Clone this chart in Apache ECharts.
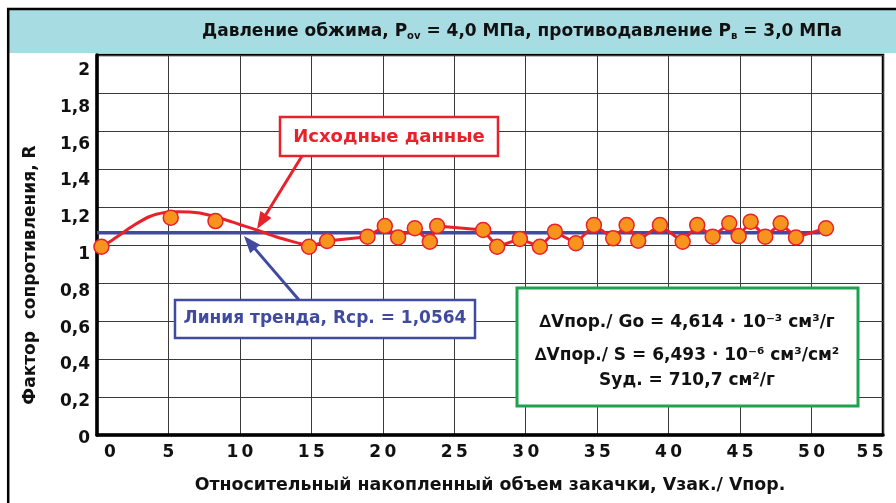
<!DOCTYPE html>
<html><head><meta charset="utf-8">
<script src="https://cdn.jsdelivr.net/npm/echarts@6/dist/echarts.min.js"></script>
<style>html,body{margin:0;padding:0;background:#fff}#c{width:896px;height:503px}</style>
</head><body><div id="c"></div>
<script>
// ---- data ----
const xMin = 0, xMax = 55, xInterval = 5;
const yMin = 0, yMax = 2, yInterval = 0.2;
const pointX = [0.31,5.16,8.29,14.84,16.10,18.93,20.14,21.07,22.24,23.29,23.80,27.02,28.00,29.59,30.99,32.04,33.51,34.77,36.12,37.06,37.87,39.39,40.98,42.00,43.08,44.24,44.90,45.74,46.76,47.84,48.91,51.01];
const pointY = [0.991,1.144,1.126,0.991,1.021,1.044,1.100,1.040,1.088,1.017,1.100,1.079,0.991,1.032,0.991,1.070,1.009,1.105,1.035,1.105,1.023,1.105,1.017,1.105,1.044,1.114,1.047,1.123,1.044,1.114,1.040,1.088];
const curveX = [0.31,0.89,1.59,2.50,3.69,4.74,5.58,6.49,7.19,8.59,9.99,11.18,12.58,14.19,14.84];
const curveY = [0.991,1.017,1.053,1.100,1.150,1.171,1.175,1.174,1.168,1.142,1.108,1.079,1.042,1.008,0.991];
const trendX = [0, 50.6];
const trendY = [1.064, 1.064];
const firstLinePoint = 3;
const titleParts = ['Давление обжима, P', 'ov', ' = 4,0 МПа, противодавление P', 'в', ' = 3,0 МПа'];
const xName = 'Относительный накопленный объем закачки, Vзак./ Vпор.';
const yName = 'Фактор  сопротивления, R';
const label1 = 'Исходные данные';
const label2 = 'Линия тренда, Rср. = 1,0564';
const infoLines = ['∆Vпор./ Go = 4,614 · 10⁻³ см³/г', '∆Vпор./ S = 6,493 · 10⁻⁶ см³/см²', 'Sуд. = 710,7 см²/г'];

// ---- styles ----
const red = '#E8212B', blue = '#404BA0', orange = '#F7941D', green = '#1DA34F', band = '#A8DCE3';
const F = 'DejaVu Sans';
const labelFont = {fontFamily: F, fontWeight: 'bold', fontSize: 17, color: '#111'};

const zip = (xs, ys) => xs.map((x, i) => [x, ys[i]]);
function fmtY(v) {
  const k = v / yInterval;
  if (Math.abs(k - Math.round(k)) > 1e-6) return '';
  return '{a|' + String(+v.toFixed(1)).replace('.', ',') + '}';
}
function fmtX(v) {
  const s = String(v).split('').join('\u2009');
  if (v === xMin) return '{l|' + s + '}';
  if (v === xMax) return '{r|' + s + '}';
  return s;
}
function arrow(x1, y1, x2, y2, color) {
  const dx = x2 - x1, dy = y2 - y1, L = Math.hypot(dx, dy), ux = dx / L, uy = dy / L, hl = 17, hw = 6.5;
  const bx = x2 - ux * hl, by = y2 - uy * hl;
  return [
    {type: 'line', z: 50, shape: {x1: x1, y1: y1, x2: bx + ux * 2, y2: by + uy * 2}, style: {stroke: color, lineWidth: 3}},
    {type: 'polygon', z: 50, shape: {points: [[x2, y2], [bx - uy * hw, by + ux * hw], [bx + uy * hw, by - ux * hw]]}, style: {fill: color}}
  ];
}
function box(x, y, w, h, color, lw) {
  return {type: 'rect', z: 40, shape: {x: x, y: y, width: w, height: h}, style: {fill: '#fff', stroke: color, lineWidth: lw}};
}
function txt(x, y, text, color, size, extra) {
  return Object.assign({type: 'text', z: 60, x: x, y: y, style: {text: text, fill: color, font: 'bold ' + size + 'px "' + F + '"', align: 'center', verticalAlign: 'middle'}}, extra || {});
}

const chart = echarts.init(document.getElementById('c'), null, {renderer: 'canvas'});
const labelAxisMax = 2.0652;

const graphics = [
  {type: 'rect', z: 1, shape: {x: 9, y: 10, width: 900, height: 43}, style: {fill: band}},
  {type: 'rect', z: 2, shape: {x: 8.2, y: 9, width: 900, height: 510}, style: {fill: 'none', stroke: '#000', lineWidth: 2.5}},
  {type: 'text', z: 60, x: 522, y: 32, style: {
    text: '{t|' + titleParts[0] + '}{s|' + titleParts[1] + '}{t|' + titleParts[2] + '}{s|' + titleParts[3] + '}{t|' + titleParts[4] + '}',
    align: 'center', verticalAlign: 'middle',
    rich: {
      t: {fontSize: 17, fontWeight: 'bold', fontFamily: F, fill: '#111', lineHeight: 22},
      s: {fontSize: 10, fontWeight: 'bold', fontFamily: F, fill: '#111', lineHeight: 22, padding: [9, 0, 0, 0]}
    }}},
  txt(31, 275, yName, '#111', 17, {rotation: Math.PI / 2}),
  box(280, 117, 218, 39, red, 2.5),
  txt(389, 137, label1, red, 18),
  box(175, 300, 300, 38, blue, 2.5),
  txt(325, 319, label2, blue, 17),
  box(517, 288, 341, 118, green, 3),
  txt(687, 323, infoLines[0], '#111', 17),
  txt(687, 356, infoLines[1], '#111', 17),
  txt(687, 381, infoLines[2], '#111', 17)
].concat(arrow(302, 156, 257, 229, red), arrow(299, 300, 244, 236, blue));

chart.setOption({
  animation: false,
  grid: {left: 97, top: 55, right: 13, bottom: 68, show: true, borderColor: '#000', borderWidth: 2.5, backgroundColor: '#fff'},
  xAxis: {
    type: 'value', min: xMin, max: xMax, interval: xInterval,
    name: xName, nameLocation: 'middle', nameGap: 42,
    nameTextStyle: {fontFamily: F, fontWeight: 'bold', fontSize: 17.4, color: '#111'},
    axisLine: {show: true, onZero: false, lineStyle: {color: '#000', width: 3.5}},
    axisTick: {show: false},
    axisLabel: Object.assign({margin: 9, formatter: fmtX,
      rich: {l: Object.assign({padding: [0, 0, 0, 26]}, labelFont),
             r: Object.assign({padding: [0, 26, 0, 0]}, labelFont)}}, labelFont),
    splitLine: {show: true, lineStyle: {color: '#3a3a3a', width: 1}}
  },
  yAxis: [{
    type: 'value', min: yMin, max: yMax, interval: yInterval,
    axisLine: {show: true, onZero: false, lineStyle: {color: '#000', width: 3.5}},
    axisTick: {show: false}, axisLabel: {show: false},
    splitLine: {show: true, lineStyle: {color: '#3a3a3a', width: 1}}
  }, {
    type: 'value', min: yMin, max: labelAxisMax, interval: yInterval, position: 'left', alignTicks: false,
    axisLine: {show: false}, axisTick: {show: false}, splitLine: {show: false},
    axisLabel: Object.assign({margin: 7, formatter: fmtY,
      rich: {a: Object.assign({padding: [7, 0, 0, 0]}, labelFont)}}, labelFont)
  }],
  graphic: graphics,
  series: [
    {type: 'line', name: 'trend', data: zip(trendX, trendY), symbol: 'none', lineStyle: {color: blue, width: 3.5}, z: 3, silent: true},
    {type: 'line', name: 'curve', data: zip(curveX, curveY), smooth: 0.3, symbol: 'none', lineStyle: {color: red, width: 3}, z: 4, silent: true},
    {type: 'line', name: 'lines', data: zip(pointX.slice(firstLinePoint), pointY.slice(firstLinePoint)), symbol: 'none', lineStyle: {color: red, width: 3}, z: 4, silent: true},
    {type: 'scatter', name: 'points', data: zip(pointX, pointY), symbol: 'circle', symbolSize: 15,
      itemStyle: {color: orange, borderColor: red, borderWidth: 1.5, opacity: 1}, z: 5, silent: true}
  ]
});
</script>
</body></html>
